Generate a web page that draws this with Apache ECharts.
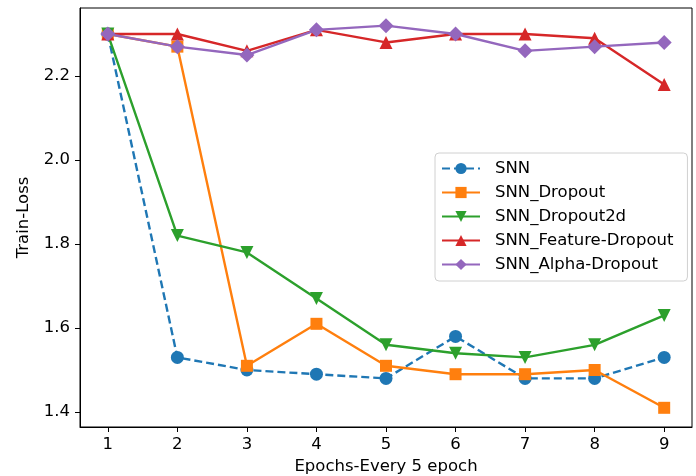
<!DOCTYPE html>
<html>
<head>
<meta charset="utf-8">
<script src="https://cdn.jsdelivr.net/npm/echarts@6/dist/echarts.min.js"></script>
<style>html,body{margin:0;padding:0;background:#fff}#c{width:696px;height:476px}</style>
</head>
<body>
<div id="c"></div>
<script>
const epochs = [1, 2, 3, 4, 5, 6, 7, 8, 9];
const snn = [2.30, 1.53, 1.50, 1.49, 1.48, 1.58, 1.48, 1.48, 1.53];
const snnDropout = [2.30, 2.27, 1.51, 1.61, 1.51, 1.49, 1.49, 1.50, 1.41];
const snnDropout2d = [2.30, 1.82, 1.78, 1.67, 1.56, 1.54, 1.53, 1.56, 1.63];
const snnFeature = [2.30, 2.30, 2.26, 2.31, 2.28, 2.30, 2.30, 2.29, 2.18];
const snnAlpha = [2.30, 2.27, 2.25, 2.31, 2.32, 2.30, 2.26, 2.27, 2.28];
const yTicks = [1.4, 1.6, 1.8, 2.0, 2.2];
const xTicks = [1, 2, 3, 4, 5, 6, 7, 8, 9];

const pair = arr => epochs.map((e, i) => [e, arr[i]]);
const font = 'DejaVu Sans';
const fs = 16.5;

const mk = (name, data, color, symbol, size, extra) => Object.assign({
  name, type: 'line', data: pair(data), symbol, symbolSize: size,
  lineStyle: { color, width: 2.4 }, itemStyle: { color },
  emphasis: { disabled: true }, animation: false
}, extra || {});

const chart = echarts.init(document.getElementById('c'), null, { renderer: 'canvas' });
chart.setOption({
  backgroundColor: '#fff',
  animation: false,
  grid: { left: 80, right: 4, top: 8, bottom: 49, show: true, borderColor: '#000', borderWidth: 1,
    containLabel: false, outerBoundsMode: 'none' },
  xAxis: {
    type: 'value', min: 0.6, max: 9.4,
    name: 'Epochs-Every 5 epoch', nameLocation: 'middle', nameGap: 30,
    nameTextStyle: { fontFamily: font, fontSize: fs, color: '#000' },
    splitLine: { show: false },
    axisLine: { show: true, lineStyle: { color: '#000', width: 1 } },
    axisTick: { show: true, customValues: xTicks, length: 5, lineStyle: { color: '#000' } },
    axisLabel: { customValues: xTicks, fontFamily: font, fontSize: fs, color: '#000', margin: 9 }
  },
  yAxis: {
    type: 'value', min: 1.3643, max: 2.362,
    name: 'Train-Loss', nameLocation: 'middle', nameGap: 48,
    nameTextStyle: { fontFamily: font, fontSize: fs, color: '#000' },
    splitLine: { show: false },
    axisLine: { show: true, lineStyle: { color: '#000', width: 1 } },
    axisTick: { show: true, customValues: yTicks, length: 5, lineStyle: { color: '#000' } },
    axisLabel: { customValues: yTicks, fontFamily: font, fontSize: fs, color: '#000', margin: 10,
      formatter: v => v.toFixed(1) }
  },
  legend: {
    orient: 'vertical', left: 435, top: 153,
    backgroundColor: '#fff', borderColor: '#d0d0d0', borderWidth: 1, borderRadius: 4,
    padding: [7, 14, 8, 6], itemGap: 7, itemWidth: 38, itemHeight: 14,
    textStyle: { fontFamily: font, fontSize: fs, color: '#000', padding: [0, 0, 0, 10] },
    data: ['SNN', 'SNN_Dropout', 'SNN_Dropout2d', 'SNN_Feature-Dropout', 'SNN_Alpha-Dropout']
  },
  series: [
    mk('SNN', snn, '#1f77b4', 'circle', 13, { lineStyle: { color: '#1f77b4', width: 2.4, type: [8, 4] } }),
    mk('SNN_Dropout', snnDropout, '#ff7f0e', 'rect', 12),
    mk('SNN_Dropout2d', snnDropout2d, '#2ca02c', 'triangle', 13, { symbolRotate: 180 }),
    mk('SNN_Feature-Dropout', snnFeature, '#d62728', 'triangle', 13),
    mk('SNN_Alpha-Dropout', snnAlpha, '#9467bd', 'diamond', 15)
  ]
});
</script>
</body>
</html>
